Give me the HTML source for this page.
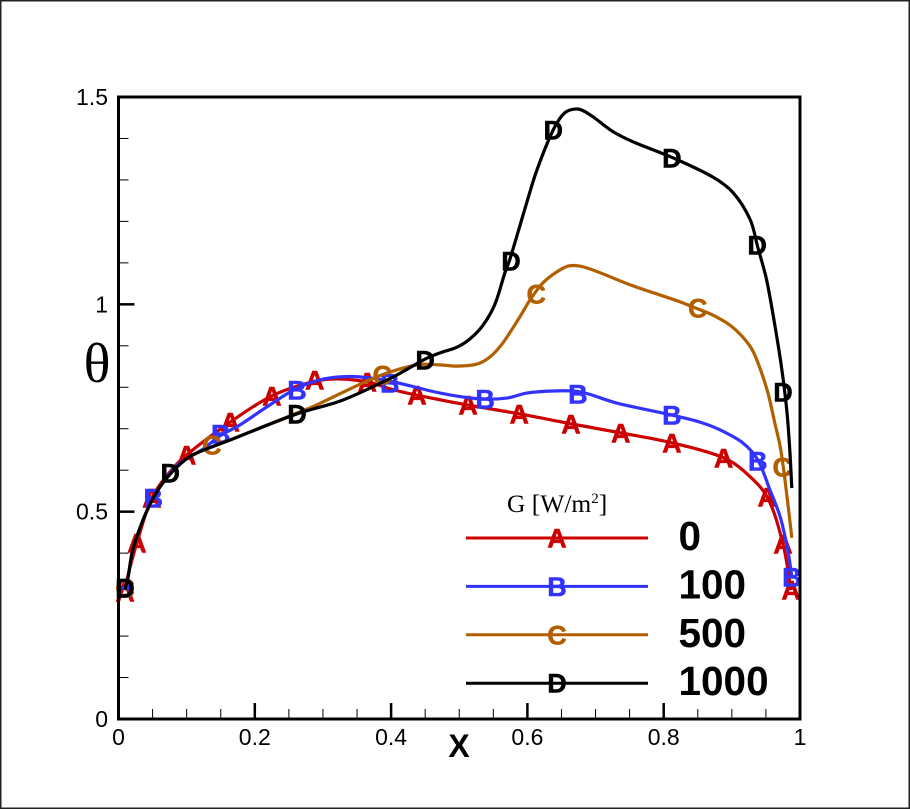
<!DOCTYPE html>
<html lang="en">
<head>
<meta charset="utf-8">
<title>Theta vs X</title>
<style>
html,body{margin:0;padding:0;background:#fff;}
body{width:910px;height:809px;overflow:hidden;}
svg{display:block;}
</style>
</head>
<body>
<svg id="chart" width="910" height="809" viewBox="0 0 910 809" xmlns="http://www.w3.org/2000/svg">
  <rect x="0.75" y="0.75" width="908.5" height="807.5" fill="#fff" stroke="#222" stroke-width="1.5"/>
  <text x="97" y="382" font-family="'Liberation Serif',serif" font-size="56" text-anchor="middle" fill="#000">θ</text>
  <text x="459" y="757" font-family="'Liberation Sans',sans-serif" font-size="32" font-weight="bold" text-anchor="middle" fill="#000">X</text>
  <text x="507" y="512" font-family="'Liberation Serif',serif" font-size="25.5" fill="#000">G [W/m<tspan font-size="15" dy="-9">2</tspan><tspan dy="9">]</tspan></text>
  <g id="layer"></g>
</svg>
<script>
const xMajorTicks = [0, 0.2, 0.4, 0.6, 0.8, 1];
const xMinorTicks = [0.05, 0.1, 0.15, 0.25, 0.3, 0.35, 0.45, 0.5, 0.55, 0.65, 0.7, 0.75, 0.85, 0.9, 0.95];
const yMajorTicks = [0, 0.5, 1, 1.5];
const yMinorTicks = [0.1, 0.2, 0.3, 0.4, 0.6, 0.7, 0.8, 0.9, 1.1, 1.2, 1.3, 1.4];

const curveA = [[.0095,.311],[.014,.347],[.027,.425],[.049,.533],[.076,.597],[.100,.637],[.164,.716],[.225,.779],[.277,.810],[.315,.820],[.365,.813],[.403,.794],[.438,.781],[.513,.757],[.588,.736],[.664,.712],[.737,.690],[.812,.666],[.888,.630],[.919,.596],[.952,.535],[.975,.422],[.987,.311]];
const curveB = [[.0095,.311],[.014,.342],[.021,.408],[.036,.480],[.051,.533],[.065,.569],[.086,.612],[.124,.651],[.149,.683],[.178,.709],[.218,.753],[.262,.798],[.296,.818],[.325,.825],[.354,.825],[.403,.813],[.472,.786],[.530,.772],[.570,.774],[.599,.786],[.638,.791],[.677,.789],[.731,.762],[.812,.733],[.853,.716],[.883,.697],[.916,.666],[.938,.625],[.956,.552],[.971,.487],[.982,.408],[.988,.343]];
const curveC = [[.0095,.311],[.014,.342],[.021,.408],[.036,.480],[.051,.533],[.065,.569],[.086,.608],[.109,.637],[.164,.673],[.262,.738],[.285,.753],[.379,.825],[.438,.854],[.472,.854],[.497,.851],[.526,.856],[.545,.873],[.564,.907],[.589,.970],[.604,1.011],[.623,1.052],[.643,1.078],[.662,1.093],[.687,1.088],[.751,1.047],[.824,1.006],[.850,.989],[.872,.974],[.897,.950],[.916,.921],[.930,.890],[.941,.847],[.953,.786],[.963,.714],[.971,.656],[.978,.576],[.988,.437]];
const curveD = [[.0095,.311],[.014,.342],[.021,.408],[.036,.480],[.051,.533],[.065,.569],[.086,.608],[.109,.637],[.164,.673],[.262,.736],[.329,.769],[.403,.825],[.450,.868],[.472,.883],[.497,.897],[.516,.917],[.535,.950],[.552,.999],[.567,1.076],[.574,1.107],[.599,1.245],[.614,1.324],[.638,1.421],[.655,1.462],[.674,1.471],[.692,1.457],[.726,1.416],[.755,1.392],[.814,1.353],[.872,1.307],[.902,1.269],[.927,1.204],[.938,1.138],[.951,1.059],[.966,.921],[.974,.835],[.981,.738],[.985,.649],[.988,.557]];

const markersA = [[.0095,.306],[.027,.425],[.049,.533],[.100,.637],[.164,.716],[.225,.779],[.288,.818],[.365,.813],[.438,.781],[.513,.757],[.588,.736],[.664,.712],[.737,.690],[.812,.666],[.888,.630],[.952,.535],[.975,.422],[.987,.311]];
const markersB = [[.0095,.316],[.051,.533],[.150,.687],[.262,.794],[.398,.810],[.538,.772],[.674,.784],[.812,.733],[.938,.622],[.988,.343]];
const markersC = [[.0095,.316],[.137,.661],[.387,.830],[.613,1.025],[.850,.991],[.974,.608]];
const markersD = [[.0095,.316],[.076,.593],[.262,.735],[.450,.866],[.576,1.105],[.638,1.421],[.812,1.353],[.937,1.143],[.975,.788]];

const legendValues = ['0', '100', '500', '1000'];

const NS = 'http://www.w3.org/2000/svg';
const layer = document.getElementById('layer');
const SANS = "'Liberation Sans',sans-serif";
const xLeft = 118.5, xRight = 800, yBottom = 719, yTop = 97;
const xScale = v => xLeft + v * (xRight - xLeft);
const yScale = v => yBottom - (v / 1.5) * (yBottom - yTop);

function make(tag, parent) {
  const el = document.createElementNS(NS, tag);
  parent.appendChild(el);
  return el;
}

function smoothPath(pts) {
  const p = pts.map(d => [xScale(d[0]), yScale(d[1])]);
  const dist = (a, b) => Math.max(Math.hypot(a[0] - b[0], a[1] - b[1]), 0.01);
  const tangent = i => {
    const a = p[Math.max(i - 1, 0)], b = p[i], c = p[Math.min(i + 1, p.length - 1)];
    const d1 = i > 0 ? dist(a, b) : 0, d2 = i < p.length - 1 ? dist(b, c) : 0;
    const total = d1 + d2;
    return [(c[0] - a[0]) / total, (c[1] - a[1]) / total];
  };
  let s = 'M' + p[0][0].toFixed(2) + ' ' + p[0][1].toFixed(2);
  for (let i = 0; i < p.length - 1; i++) {
    const b = p[i], c = p[i + 1], d = dist(b, c) / 3;
    const tb = tangent(i), tc = tangent(i + 1);
    s += 'C' + (b[0] + tb[0] * d).toFixed(2) + ' ' + (b[1] + tb[1] * d).toFixed(2) + ' ' + (c[0] - tc[0] * d).toFixed(2) + ' ' + (c[1] - tc[1] * d).toFixed(2) + ' ' + c[0].toFixed(2) + ' ' + c[1].toFixed(2);
  }
  return s;
}

function tick(x1, y1, x2, y2, w, name) {
  const l = make('line', layer);
  
  
  l.setAttribute('x1', x1);
  l.setAttribute('y1', y1);
  l.setAttribute('x2', x2);
  l.setAttribute('y2', y2);
  l.setAttribute('stroke', '#000');
  l.setAttribute('stroke-width', w);
}

function label(txt, x, y, anchor, size, weight, fill, name) {
  const t = make('text', layer);
  
  
  t.setAttribute('x', x);
  t.setAttribute('y', y);
  t.setAttribute('text-anchor', anchor);
  t.setAttribute('font-family', SANS);
  t.setAttribute('font-size', size);
  t.setAttribute('font-weight', weight);
  t.setAttribute('fill', fill);
  t.textContent = txt;
  return t;
}

xMinorTicks.forEach(v => tick(xScale(v), yBottom, xScale(v), yBottom - 10, 1, 'x-minor-tick'));
yMinorTicks.forEach(v => tick(xLeft, yScale(v), xLeft + 10, yScale(v), 1, 'y-minor-tick'));
xMajorTicks.forEach(v => {
  tick(xScale(v), yBottom, xScale(v), yBottom - 16, 2.5, 'x-major-tick');
  label(String(v), xScale(v), 745, 'middle', 23, 'normal', '#000', 'x-tick-label');
});
yMajorTicks.forEach(v => {
  tick(xLeft, yScale(v), xLeft + 16, yScale(v), 2.5, 'y-major-tick');
  label(String(v), 108, yScale(v) + 8, 'end', 23, 'normal', '#000', 'y-tick-label');
});

function drawSeries(curve, markers, color, letter, name) {
  const g = make('g', layer);
  
  
  const path = make('path', g);
  
  
  path.setAttribute('d', smoothPath(curve));
  path.setAttribute('fill', 'none');
  path.setAttribute('stroke', color);
  path.setAttribute('stroke-width', '3.2');
  markers.forEach(m => {
    const t = make('text', g);
    
    
    t.setAttribute('x', xScale(m[0]));
    t.setAttribute('y', yScale(m[1]) + 9.5);
    t.setAttribute('text-anchor', 'middle');
    t.setAttribute('font-family', SANS);
    t.setAttribute('font-size', '27');
    t.setAttribute('font-weight', 'bold');
    t.setAttribute('fill', color);
    t.setAttribute('stroke', color);
    t.setAttribute('stroke-width', '0.5');
    t.textContent = letter;
  });
}

const RED = '#cc0000', BLUE = '#3333ff', BROWN = '#b25f00', BLACK = '#000000';
drawSeries(curveA, markersA, RED, 'A', 'series-a');
drawSeries(curveB, markersB, BLUE, 'B', 'series-b');
drawSeries(curveC, markersC, BROWN, 'C', 'series-c');
drawSeries(curveD, markersD, BLACK, 'D', 'series-d');

const legendColors = [RED, BLUE, BROWN, BLACK];
const legendLetters = ['A', 'B', 'C', 'D'];
legendValues.forEach((val, i) => {
  const y = 538 + i * 48.4;
  const l = make('line', layer);
  
  
  l.setAttribute('x1', 466);
  l.setAttribute('x2', 648);
  l.setAttribute('y1', y);
  l.setAttribute('y2', y);
  l.setAttribute('stroke', legendColors[i]);
  l.setAttribute('stroke-width', '3');
  const mk = label(legendLetters[i], 557, y + 9.5, 'middle', 27, 'bold', legendColors[i], 'legend-marker');
  mk.setAttribute('stroke', legendColors[i]);
  mk.setAttribute('stroke-width', '0.5');
  label(val, 678.5, y + 12, 'start', 40.5, 'bold', '#000', 'legend-label');
});

const frame = make('rect', layer);


frame.setAttribute('x', xLeft);
frame.setAttribute('y', yTop);
frame.setAttribute('width', xRight - xLeft);
frame.setAttribute('height', yBottom - yTop);
frame.setAttribute('fill', 'none');
frame.setAttribute('stroke', '#000');
frame.setAttribute('stroke-width', '3');
</script>
</body>
</html>
